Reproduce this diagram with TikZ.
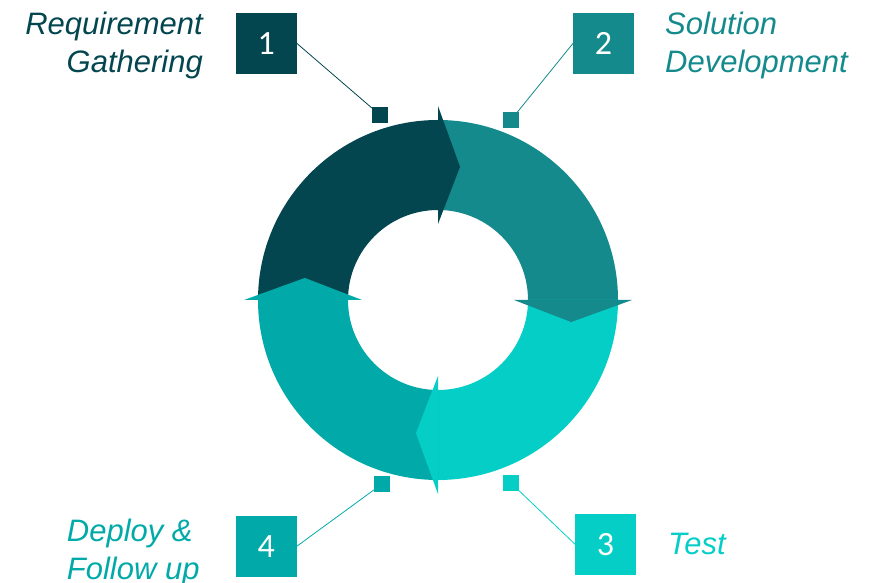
\documentclass[tikz,border=0pt]{standalone}
\usepackage{fontspec}
\setmainfont{Liberation Sans}
\newfontfamily\numfont{Carlito}
\usetikzlibrary{calc}
\definecolor{phaseA}{HTML}{04464F}
\definecolor{phaseB}{HTML}{148A8C}
\definecolor{phaseC}{HTML}{05CEC7}
\definecolor{phaseD}{HTML}{01AAA9}

\begin{document}
\begin{tikzpicture}[x = 1pt, y = 1pt,
    numbox/.style = {fill = #1, minimum size = 60.5pt, inner sep = 0pt, text = white, font = \numfont\fontsize{34}{34}\selectfont},
    dotbox/.style = {fill = #1, minimum size = 15.5pt, inner sep = 0pt},
    phase/.style = {text = #1, inner sep = 0pt, font = \itshape\fontsize{31}{38.3}\selectfont},
    lead/.style = {draw = #1, line width = 0.8pt}]
            \useasboundingbox (0,0) rectangle (872,583);
            \coordinate (C) at (438,283);
            \fill[phaseA] ($(C)+(180:180)$) arc[start angle = 180, end angle = 90, radius = 180] -- ($(C)+(90:90)$) arc[start angle = 90, end angle = 180, radius = 90] -- cycle;
            \fill[phaseB] ($(C)+(90:180)$) arc[start angle = 90, end angle = 0, radius = 180] -- ($(C)+(0:90)$) arc[start angle = 0, end angle = 90, radius = 90] -- cycle;
            \fill[phaseC] ($(C)+(0:180)$) arc[start angle = 0, end angle = -90, radius = 180] -- ($(C)+(-90:90)$) arc[start angle = -90, end angle = 0, radius = 90] -- cycle;
            \fill[phaseD] ($(C)+(-90:180)$) arc[start angle = -90, end angle = -180, radius = 180] -- ($(C)+(-180:90)$) arc[start angle = -180, end angle = -90, radius = 90] -- cycle;
            \fill[phaseA] ($(C)+(90:76)$) -- ($(C)+(90:194)$) -- ($(C)+(80.6:135)$) -- cycle;
            \fill[phaseB] ($(C)+(0:76)$) -- ($(C)+(0:194)$) -- ($(C)+(-9.4:135)$) -- cycle;
            \fill[phaseC] ($(C)+(-90:76)$) -- ($(C)+(-90:194)$) -- ($(C)+(-99.4:135)$) -- cycle;
            \fill[phaseD] ($(C)+(180:76)$) -- ($(C)+(180:194)$) -- ($(C)+(170.6:135)$) -- cycle;
            \node[numbox = phaseA] (B1) at (266.3,539.7) {1};
            \node[numbox = phaseB] (B2) at (603.5,539.7) {2};
            \node[numbox = phaseC] (B3) at (605.5,38.7) {3};
            \node[numbox = phaseD] (B4) at (266.3,36.7) {4};
            \coordinate (S1) at (380,468);
            \coordinate (S2) at (511,463);
            \coordinate (S3) at (511,100);
            \coordinate (S4) at (382,99);
            \draw[lead = phaseA] (B1.east) -- (S1);
            \draw[lead = phaseB] (B2.west) -- (S2);
            \draw[lead = phaseC] (B3.west) -- (S3);
            \draw[lead = phaseD] (B4.east) -- (S4);
            \node[dotbox = phaseA] at (S1) {};
            \node[dotbox = phaseB] at (S2) {};
            \node[dotbox = phaseC] at (S3) {};
            \node[dotbox = phaseD] at (S4) {};
            \node[phase = phaseA, anchor = base east, align = right] (T1) at (203,510.3) {Requirement\\Gathering};
            \node[phase = phaseB, anchor = base west, align = left] (T2) at (665,510.3) {Solution\\Development};
            \node[phase = phaseC, anchor = base west] (T3) at (668,28) {Test};
            \node[phase = phaseD, anchor = base west, align = left] (T4) at (66.7,3) {Deploy \&\\Follow up};
\end{tikzpicture}
\end{document}
